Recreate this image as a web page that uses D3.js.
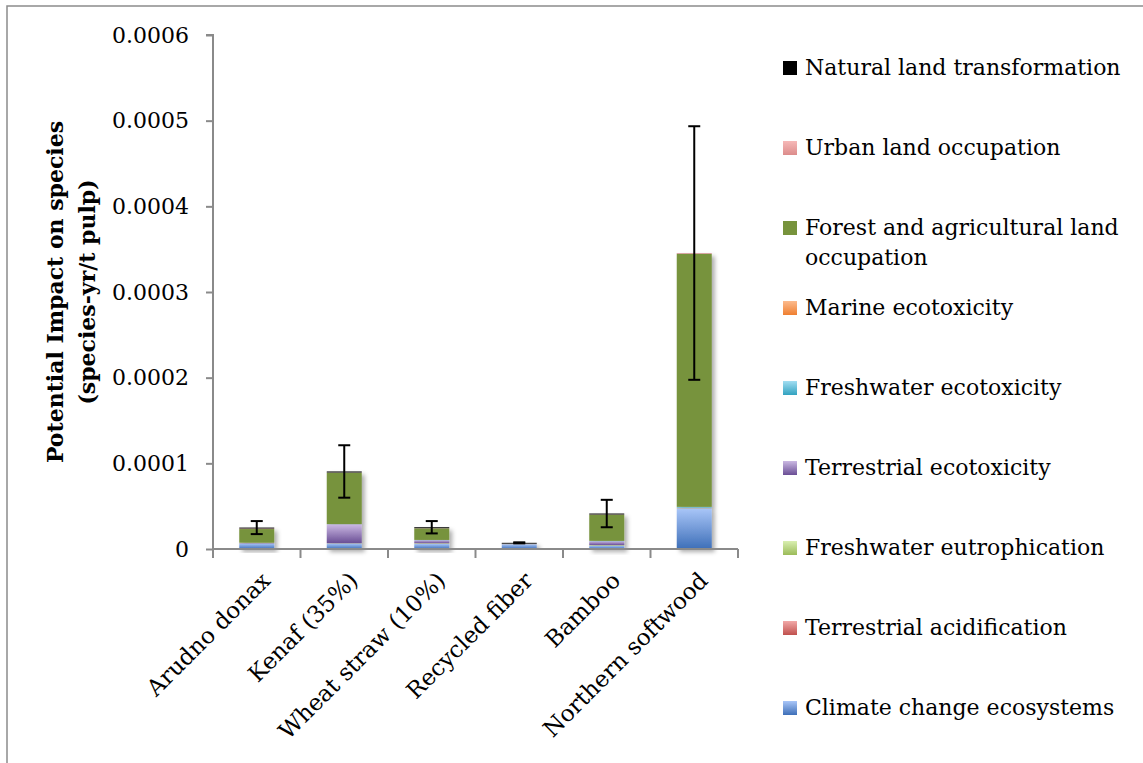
<!DOCTYPE html>
<html>
<head>
<meta charset="utf-8">
<script src="https://cdn.jsdelivr.net/npm/d3@7"></script>
<style>
  html, body { margin: 0; padding: 0; background: #fff; }
  svg { display: block; }
  text { font-family: "DejaVu Serif", "Liberation Serif", serif; fill: #000; }
</style>
</head>
<body>
<svg id="chart" width="1143" height="763"></svg>
<script>
// Pulp feedstocks compared
const categories = ["Arudno donax", "Kenaf (35%)", "Wheat straw (10%)", "Recycled fiber", "Bamboo", "Northern softwood"];

// Impact contributions per feedstock (species-yr / t pulp), bottom of stack first
const climateChange        = [6.5e-6, 6.5e-6, 6.0e-6, 5.6e-6, 4.0e-6, 4.75e-5];
const terrAcidification    = [1e-7, 1e-7, 1e-7, 1e-7, 1e-7, 2e-7];
const freshEutrophication  = [1e-7, 2e-7, 6e-7, 1e-7, 5e-7, 2e-7];
const terrEcotoxicity      = [4e-7, 2.2e-5, 3.6e-6, 2e-7, 4.5e-6, 3e-7];
const freshEcotoxicity     = [1e-7, 2e-7, 2e-7, 1e-7, 3e-7, 8e-7];
const marineEcotoxicity    = [1e-7, 1e-7, 1e-7, 0, 1e-7, 2e-7];
const forestAgOccupation   = [1.6e-5, 6.0e-5, 1.35e-5, 0, 3.06e-5, 2.953e-4];
const urbanOccupation      = [6e-7, 2e-7, 2e-7, 1e-7, 2e-7, 9e-7];
const naturalTransform     = [1.1e-6, 1.2e-6, 1.1e-6, 1.0e-6, 1.1e-6, 1e-7];

// Error bar half-widths on each stacked total
const errorHalf = [7.6e-6, 3.06e-5, 7.2e-6, 6e-7, 1.6e-5, 1.48e-4];

// Axis ticks
const yTickValues = [0, 0.0001, 0.0002, 0.0003, 0.0004, 0.0005, 0.0006];
const yTickLabels = ["0", "0.0001", "0.0002", "0.0003", "0.0004", "0.0005", "0.0006"];

const series = [
  { name: "Climate change ecosystems",          values: climateChange,       fill: ["#a9c6f8", "#3e6fb8"] },
  { name: "Terrestrial acidification",          values: terrAcidification,   fill: ["#f2a9a8", "#c0504d"] },
  { name: "Freshwater eutrophication",          values: freshEutrophication, fill: ["#d9efb1", "#9bbb59"] },
  { name: "Terrestrial ecotoxicity",            values: terrEcotoxicity,     fill: ["#cbb9e3", "#6a4e95"] },
  { name: "Freshwater ecotoxicity",             values: freshEcotoxicity,    fill: ["#a3def2", "#31a2c0"] },
  { name: "Marine ecotoxicity",                 values: marineEcotoxicity,   fill: ["#fcbb8e", "#ef7f30"] },
  { name: "Forest and agricultural land occupation", values: forestAgOccupation, fill: ["#77933c", "#77933c"], lines: ["Forest and agricultural land", "occupation"] },
  { name: "Urban land occupation",              values: urbanOccupation,     fill: ["#f6b9b8", "#dc8c8b"] },
  { name: "Natural land transformation",        values: naturalTransform,    fill: ["#000000", "#000000"] }
];

const svg = d3.select("#chart");
const defs = svg.append("defs");

series.forEach((s, i) => {
  const g = defs.append("linearGradient")
    .attr("id", "grad" + i).attr("x1", 0).attr("y1", 0).attr("x2", 0).attr("y2", 1);
  g.append("stop").attr("offset", "0%").attr("stop-color", s.fill[0]);
  g.append("stop").attr("offset", "100%").attr("stop-color", s.fill[1]);
});

const shadow = defs.append("filter").attr("id", "shadow")
  .attr("x", "-20%").attr("y", "-5%").attr("width", "150%").attr("height", "120%");
shadow.append("feDropShadow").attr("dx", 3).attr("dy", 3)
  .attr("stdDeviation", 2.2).attr("flood-color", "#000").attr("flood-opacity", 0.32);

// Outer chart frame
svg.append("rect").attr("x", 7).attr("y", 6).attr("width", 1160).attr("height", 790)
  .attr("fill", "none").attr("stroke", "#8c8c8c").attr("stroke-width", 1.5);

const plot = { left: 213, right: 738, top: 35, bottom: 549 };

const x = d3.scaleBand().domain(categories)
  .range([plot.left, plot.right]).paddingInner(0.6).paddingOuter(0.3);
const y = d3.scaleLinear().domain([0, 0.0006]).range([plot.bottom, plot.top]);

// Stack the components
const table = categories.map((c, i) => {
  const row = { category: c };
  series.forEach(s => { row[s.name] = s.values[i]; });
  return row;
});
const stacked = d3.stack().keys(series.map(s => s.name))(table);

// Bars
const barGroups = svg.append("g").selectAll("g.bar")
  .data(categories).join("g").attr("class", "bar")
  .attr("filter", "url(#shadow)");

barGroups.each(function (cat, ci) {
  const g = d3.select(this);
  stacked.forEach((layer, li) => {
    const d = layer[ci];
    const h = y(d[0]) - y(d[1]);
    if (h <= 0) return;
    g.append("rect")
      .attr("x", x(cat)).attr("width", x.bandwidth())
      .attr("y", y(d[1])).attr("height", h)
      .attr("fill", `url(#grad${li})`);
  });
});

// Y axis
const yAxis = d3.axisLeft(y).tickValues(yTickValues)
  .tickFormat((d, i) => yTickLabels[i]).tickSize(7).tickPadding(17);
const yg = svg.append("g").attr("transform", `translate(${plot.left},0)`).call(yAxis);
yg.select(".domain").attr("stroke", "#8a8a8a").attr("stroke-width", 2)
  .attr("d", `M-7,${plot.top}H0V${plot.bottom}`);
yg.selectAll(".tick line").attr("stroke", "#8a8a8a").attr("stroke-width", 2);
yg.selectAll(".tick text").style("font-family", '"DejaVu Serif", serif')
  .style("font-size", "22px").attr("fill", "#000");

// X axis with ticks at category boundaries
const xAxis = d3.axisBottom(x).tickSize(0).tickFormat("");
const xg = svg.append("g").attr("transform", `translate(0,${plot.bottom})`).call(xAxis);
xg.select(".domain").attr("stroke", "#8a8a8a").attr("stroke-width", 2)
  .attr("d", `M${plot.left},0H${plot.right}`);
const boundaries = categories.map(c => x(c) - x.step() * x.paddingOuter() * 1)
  .concat([x(categories[categories.length - 1]) + x.bandwidth() + x.step() * x.paddingOuter()]);
xg.selectAll("line.bound").data(boundaries).join("line").attr("class", "bound")
  .attr("x1", d => d).attr("x2", d => d).attr("y1", 0).attr("y2", 9)
  .attr("stroke", "#8a8a8a").attr("stroke-width", 2);

// Rotated category labels
svg.append("g").selectAll("text").data(categories).join("text")
  .attr("transform", d => `translate(${x(d) + x.bandwidth() / 2 + 15},582) rotate(-45)`)
  .attr("text-anchor", "end")
  .style("font-size", "23px")
  .text(d => d);

// Error bars on stacked totals
const totals = categories.map((c, i) => d3.sum(series, s => s.values[i]));
const eg = svg.append("g").attr("stroke", "#000").attr("stroke-width", 2);
categories.forEach((c, i) => {
  const cx = x(c) + x.bandwidth() / 2;
  const hi = y(totals[i] + errorHalf[i]);
  const lo = y(totals[i] - errorHalf[i]);
  eg.append("line").attr("x1", cx).attr("x2", cx).attr("y1", hi).attr("y2", lo);
  eg.append("line").attr("x1", cx - 6).attr("x2", cx + 6).attr("y1", hi).attr("y2", hi);
  eg.append("line").attr("x1", cx - 6).attr("x2", cx + 6).attr("y1", lo).attr("y2", lo);
});

// Y axis title
const title = svg.append("text")
  .attr("transform", `translate(0,${(plot.top + plot.bottom) / 2}) rotate(-90)`)
  .attr("text-anchor", "middle")
  .style("font-weight", "bold").style("font-size", "22px");
title.append("tspan").attr("x", 0).attr("y", 63).text("Potential Impact on species");
title.append("tspan").attr("x", 0).attr("y", 95).text("(species-yr/t pulp)");

// Legend, top entry is the top of the stack
const legendItems = series.slice().reverse();
const legend = svg.append("g");
let baseline = 75;
legendItems.forEach((s) => {
  const idx = series.indexOf(s);
  legend.append("rect").attr("x", 783).attr("y", baseline - 14)
    .attr("width", 14).attr("height", 14).attr("fill", `url(#grad${idx})`);
  const lines = s.lines || [s.name];
  const t = legend.append("text").style("font-size", "22px");
  lines.forEach((ln, k) => {
    t.append("tspan").attr("x", 805).attr("y", baseline + k * 30).text(ln);
  });
  baseline += 80;
});
</script>
</body>
</html>
